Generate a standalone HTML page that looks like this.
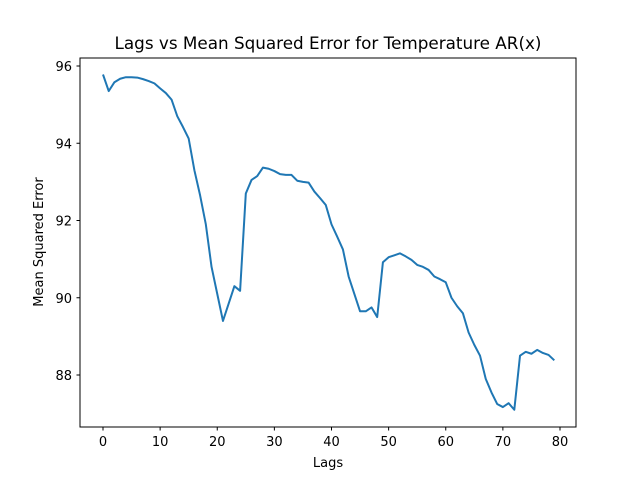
<!DOCTYPE html>
<html><head><meta charset="utf-8"><style>
body{margin:0;background:#fff}
svg{display:block;font-family:"DejaVu Sans","Liberation Sans",sans-serif}
</style></head><body>
<svg id="chart" width="640" height="480" viewBox="0 0 640 480">
<rect width="640" height="480" fill="#fff"/>
<text x="328" y="49" font-size="16.8" text-anchor="middle">Lags vs Mean Squared Error for Temperature AR(x)</text>
<g id="xticks"></g><g id="yticks"></g>
<polyline id="line" fill="none" stroke="#1f77b4" stroke-width="2" stroke-linejoin="round"/>
<rect x="80" y="58" width="496" height="369" fill="none" stroke="#000" stroke-width="1"/>
<text x="328" y="467" font-size="13" text-anchor="middle">Lags</text>
<text transform="translate(43,242) rotate(-90)" font-size="13" text-anchor="middle">Mean Squared Error</text>
</svg>
<script>
const lags=[...Array(80).keys()];
const mse=[95.78,95.35,95.58,95.67,95.71,95.71,95.70,95.66,95.61,95.55,95.42,95.30,95.13,94.70,94.42,94.12,93.30,92.65,91.90,90.80,90.10,89.40,89.85,90.30,90.18,92.70,93.05,93.15,93.37,93.34,93.28,93.20,93.18,93.18,93.03,93.00,92.98,92.75,92.58,92.40,91.90,91.58,91.25,90.55,90.10,89.65,89.65,89.75,89.50,90.92,91.05,91.10,91.15,91.07,90.98,90.85,90.80,90.72,90.55,90.48,90.40,90.00,89.78,89.60,89.10,88.78,88.50,87.90,87.55,87.25,87.17,87.27,87.10,88.50,88.60,88.55,88.65,88.57,88.52,88.38];
const xTicks=[0,10,20,30,40,50,60,70,80];
const yTicks=[88,90,92,94,96];
const sx=v=>103+v*(457/80);
const sy=v=>66+(96-v)*(309/8);
const NS="http://www.w3.org/2000/svg";
const line=document.getElementById('line');
line.setAttribute('points',lags.map((l,i)=>sx(l)+','+sy(mse[i])).join(' '));
const xg=document.getElementById('xticks'),yg=document.getElementById('yticks');
xTicks.forEach(t=>{
 const l=document.createElementNS(NS,'line');
 l.setAttribute('x1',sx(t));l.setAttribute('x2',sx(t));l.setAttribute('y1',427);l.setAttribute('y2',430.5);l.setAttribute('stroke','#000');
 
 
 xg.appendChild(l);
 const tx=document.createElementNS(NS,'text');
 tx.setAttribute('x',sx(t));tx.setAttribute('y',446);tx.setAttribute('font-size','13');tx.setAttribute('text-anchor','middle');
 tx.textContent=t;
 
 
 xg.appendChild(tx);
});
yTicks.forEach(t=>{
 const l=document.createElementNS(NS,'line');
 l.setAttribute('x1',76.5);l.setAttribute('x2',80);l.setAttribute('y1',sy(t));l.setAttribute('y2',sy(t));l.setAttribute('stroke','#000');
 
 
 yg.appendChild(l);
 const tx=document.createElementNS(NS,'text');
 tx.setAttribute('x',72);tx.setAttribute('y',sy(t)+5);tx.setAttribute('font-size','13');tx.setAttribute('text-anchor','end');
 tx.textContent=t;
 
 
 yg.appendChild(tx);
});
</script>
</body></html>
